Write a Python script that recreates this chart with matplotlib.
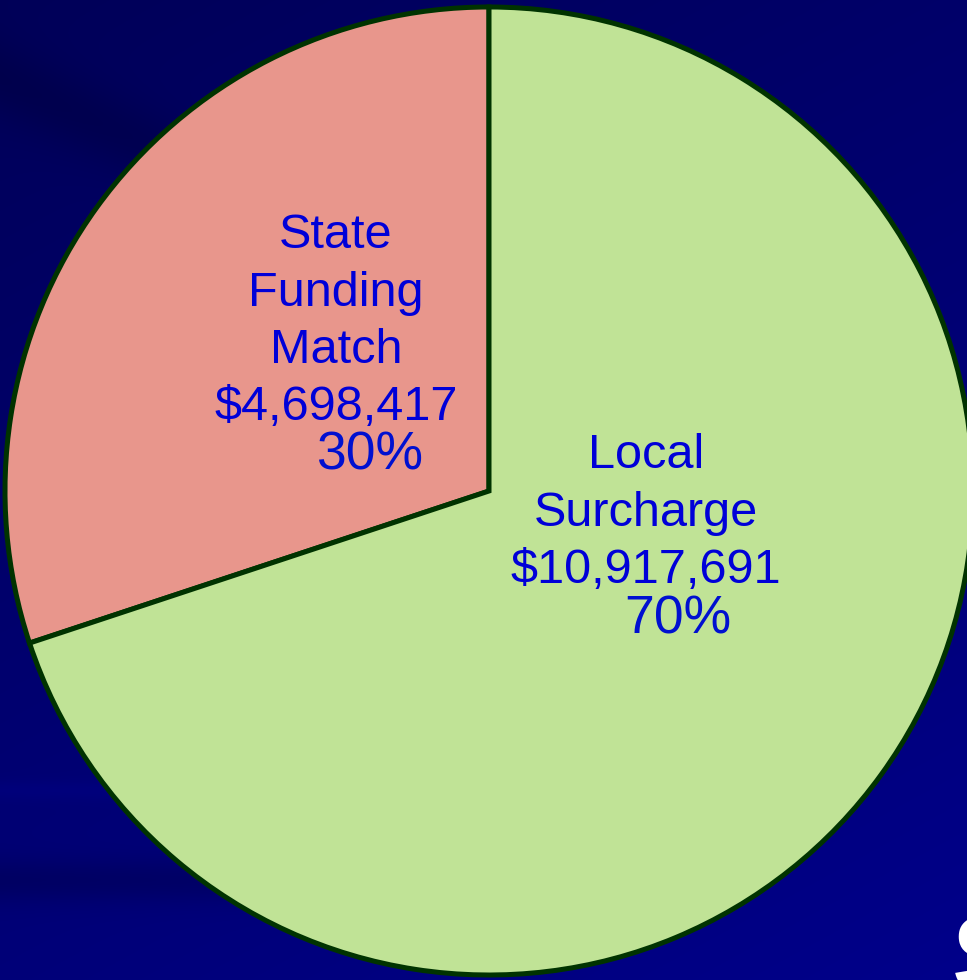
import numpy as np
import matplotlib.pyplot as plt

plt.rcParams['font.family'] = ['Liberation Sans', 'DejaVu Sans']

# data
labels = ['State\nFunding\nMatch', 'Local\nSurcharge']
amounts = [4698417, 10917691]
colors = ['#e8968c', '#c0e396']

W, H = 967, 980
total = sum(amounts)
pcts = [round(100 * a / total) for a in amounts]

fig = plt.figure(figsize=(W / 100, H / 100), dpi=100)
ax = fig.add_axes([0, 0, 1, 1])

# slide background: dark navy with soft streaks
yy, xx = np.mgrid[0:H, 0:W]
blue = 88 + 50 * (0.65 * yy / H + 0.35 * xx / W)
blue -= 14 * np.exp(-((yy - 0.45 * xx - 80) / 40.0) ** 2)
blue -= 18 * np.exp(-((yy - 880) / 22.0) ** 2) * (xx < 300)
blue += 8 * np.exp(-((yy - 790) / 10.0) ** 2) * (xx < 200)
bg = np.zeros((H, W, 3))
bg[..., 2] = np.clip(blue, 0, 255) / 255
ax.imshow(bg, extent=[0, W, 0, H], origin='upper', zorder=0, aspect='auto')

cx, cy, r = 489, H - 491, 484
ax.pie(amounts, colors=colors, startangle=90, counterclock=True,
       center=(cx, cy), radius=r, frame=True,
       wedgeprops=dict(edgecolor='#003300', linewidth=3.6))
ax.set_xlim(0, W)
ax.set_ylim(0, H)
ax.set_aspect('auto')
ax.axis('off')

txt_color = '#0000d8'
fs = 35
# label blocks: (x center, first baseline, pct x center, pct baseline) in px
blocks = [(336, 248, 370, 470), (646, 468, 678, 633)]
for lab, amt, pct, (bx, by, px, py) in zip(labels, amounts, pcts, blocks):
    lines = lab.split('\n') + ['${:,}'.format(amt)]
    for i, line in enumerate(lines):
        ax.text(bx, H - (by + 57.5 * i), line, ha='center', va='baseline',
                fontsize=fs, color=txt_color, zorder=5)
    ax.text(px, H - py, f'{pct}%', ha='center', va='baseline',
            fontsize=38.5, color='#0010d0', zorder=5)

# slide title fragment peeking in at lower right
ax.text(952, H - 993, 'S', ha='left', va='baseline', fontsize=80,
        fontweight='bold', color='white', zorder=5)

fig.savefig('out.png', dpi=100)
